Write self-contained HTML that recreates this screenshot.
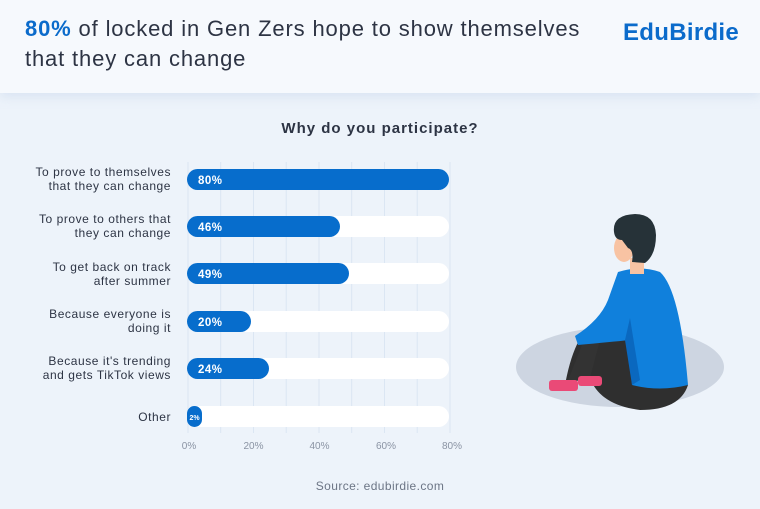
<!DOCTYPE html>
<html><head><meta charset="utf-8"><style>
body{margin:0;width:760px;height:509px;background:#edf3fa;font-family:"Liberation Sans",sans-serif;position:relative;overflow:hidden}
.hdr{position:absolute;left:0;top:0;width:760px;height:93px;background:#f6f9fd;box-shadow:0 4px 10px rgba(180,200,230,.35)}
.t{position:absolute;left:25px;top:14px;font-size:22px;line-height:30px;color:#2d3444;letter-spacing:0.85px;white-space:nowrap}
.t b{color:#0b6bcb}
.logo{position:absolute;left:623px;top:19px;font-size:24px;font-weight:bold;color:#0b6bcb;letter-spacing:0.3px}
.ct{position:absolute;left:0;width:760px;top:120px;text-align:center;font-size:15px;font-weight:bold;color:#2d3444;letter-spacing:1px}
.lab{position:absolute;right:589px;text-align:right;font-size:12px;line-height:14px;color:#2d3444;letter-spacing:0.55px;white-space:nowrap}
.src{position:absolute;left:0;width:760px;top:479px;text-align:center;font-size:12px;color:#6c7585;letter-spacing:0.4px}
</style></head><body>
<div class="hdr"><div class="t"><b>80%</b> of locked in Gen Zers hope to show themselves<br>that they can change</div><div class="logo">EduBirdie</div></div>
<div class="ct">Why do you participate?</div>
<div class="lab" style="top:165px">To prove to themselves<br>that they can change</div>
<div class="lab" style="top:212px">To prove to others that<br>they can change</div>
<div class="lab" style="top:260px">To get back on track<br>after summer</div>
<div class="lab" style="top:307px">Because everyone is<br>doing it</div>
<div class="lab" style="top:354px">Because it's trending<br>and gets TikTok views</div>
<div class="lab" style="top:410px">Other</div>
<svg width="760" height="509" style="position:absolute;left:0;top:0" font-family="Liberation Sans,sans-serif">
<g stroke="#dbe6f3" stroke-width="1">
<line x1="188" y1="162" x2="188" y2="433"/><line x1="220.7" y1="162" x2="220.7" y2="433"/><line x1="253.5" y1="162" x2="253.5" y2="433"/><line x1="286.2" y1="162" x2="286.2" y2="433"/><line x1="319" y1="162" x2="319" y2="433"/><line x1="351.7" y1="162" x2="351.7" y2="433"/><line x1="384.5" y1="162" x2="384.5" y2="433"/><line x1="417.2" y1="162" x2="417.2" y2="433"/><line x1="450" y1="162" x2="450" y2="433"/>
</g>
<g fill="#fff">
<rect x="187" y="216" width="262" height="21" rx="10.5"/><rect x="187" y="263" width="262" height="21" rx="10.5"/><rect x="187" y="311" width="262" height="21" rx="10.5"/><rect x="187" y="358" width="262" height="21" rx="10.5"/><rect x="187" y="406" width="262" height="21" rx="10.5"/>
</g>
<g fill="#076dcc">
<rect x="187" y="169" width="262" height="21" rx="10.5"/><rect x="187" y="216" width="153" height="21" rx="10.5"/><rect x="187" y="263" width="162" height="21" rx="10.5"/><rect x="187" y="311" width="64" height="21" rx="10.5"/><rect x="187" y="358" width="82" height="21" rx="10.5"/><rect x="187" y="406" width="15" height="21" rx="7.5"/>
</g>
<g fill="#fff" font-size="11.5" font-weight="bold" letter-spacing="0.5">
<text x="198" y="184">80%</text><text x="198" y="231">46%</text><text x="198" y="278">49%</text><text x="198" y="326">20%</text><text x="198" y="373">24%</text><text x="189.5" y="420" font-size="7" letter-spacing="0">2%</text>
</g>
<g fill="#8a93a3" font-size="10" text-anchor="middle">
<text x="189" y="449">0%</text><text x="253.5" y="449">20%</text><text x="319.5" y="449">40%</text><text x="386" y="449">60%</text><text x="452" y="449">80%</text>
</g>
<ellipse cx="620" cy="367" rx="104" ry="40" fill="#cdd5e1"/>
<path d="M565 385 Q575 330 600 318 L640 320 L688 385 Q680 410 640 410 Q600 405 590 378 L578 380 Z" fill="#2f2f2f"/>
<path d="M567 383 L582 345 L600 340 L590 378 Z" fill="#333"/>
<rect x="549" y="380" width="29" height="11" rx="3" fill="#ea4a77"/>
<rect x="578" y="376" width="24" height="10" rx="3" fill="#ea4a77"/>
<path d="M618 272 Q640 265 660 272 Q680 290 688 385 Q660 392 632 385 L630 340 Q610 342 578 345 L575 336 Q600 320 608 300 Z" fill="#1080dc"/>
<path d="M630 318 L640 380 L632 385 L625 340 Z" fill="#0a68bf"/>
<rect x="630" y="258" width="14" height="16" fill="#f8c3a3"/>
<ellipse cx="624" cy="248" rx="10" ry="14" fill="#f8c3a3"/>
<path d="M614 232 Q612 215 635 214 Q655 214 656 235 Q656 255 645 263 L632 262 Q634 250 628 248 L622 240 Q615 240 614 232 Z" fill="#263238"/>
</svg>
<div class="src">Source: edubirdie.com</div>
</body></html>
